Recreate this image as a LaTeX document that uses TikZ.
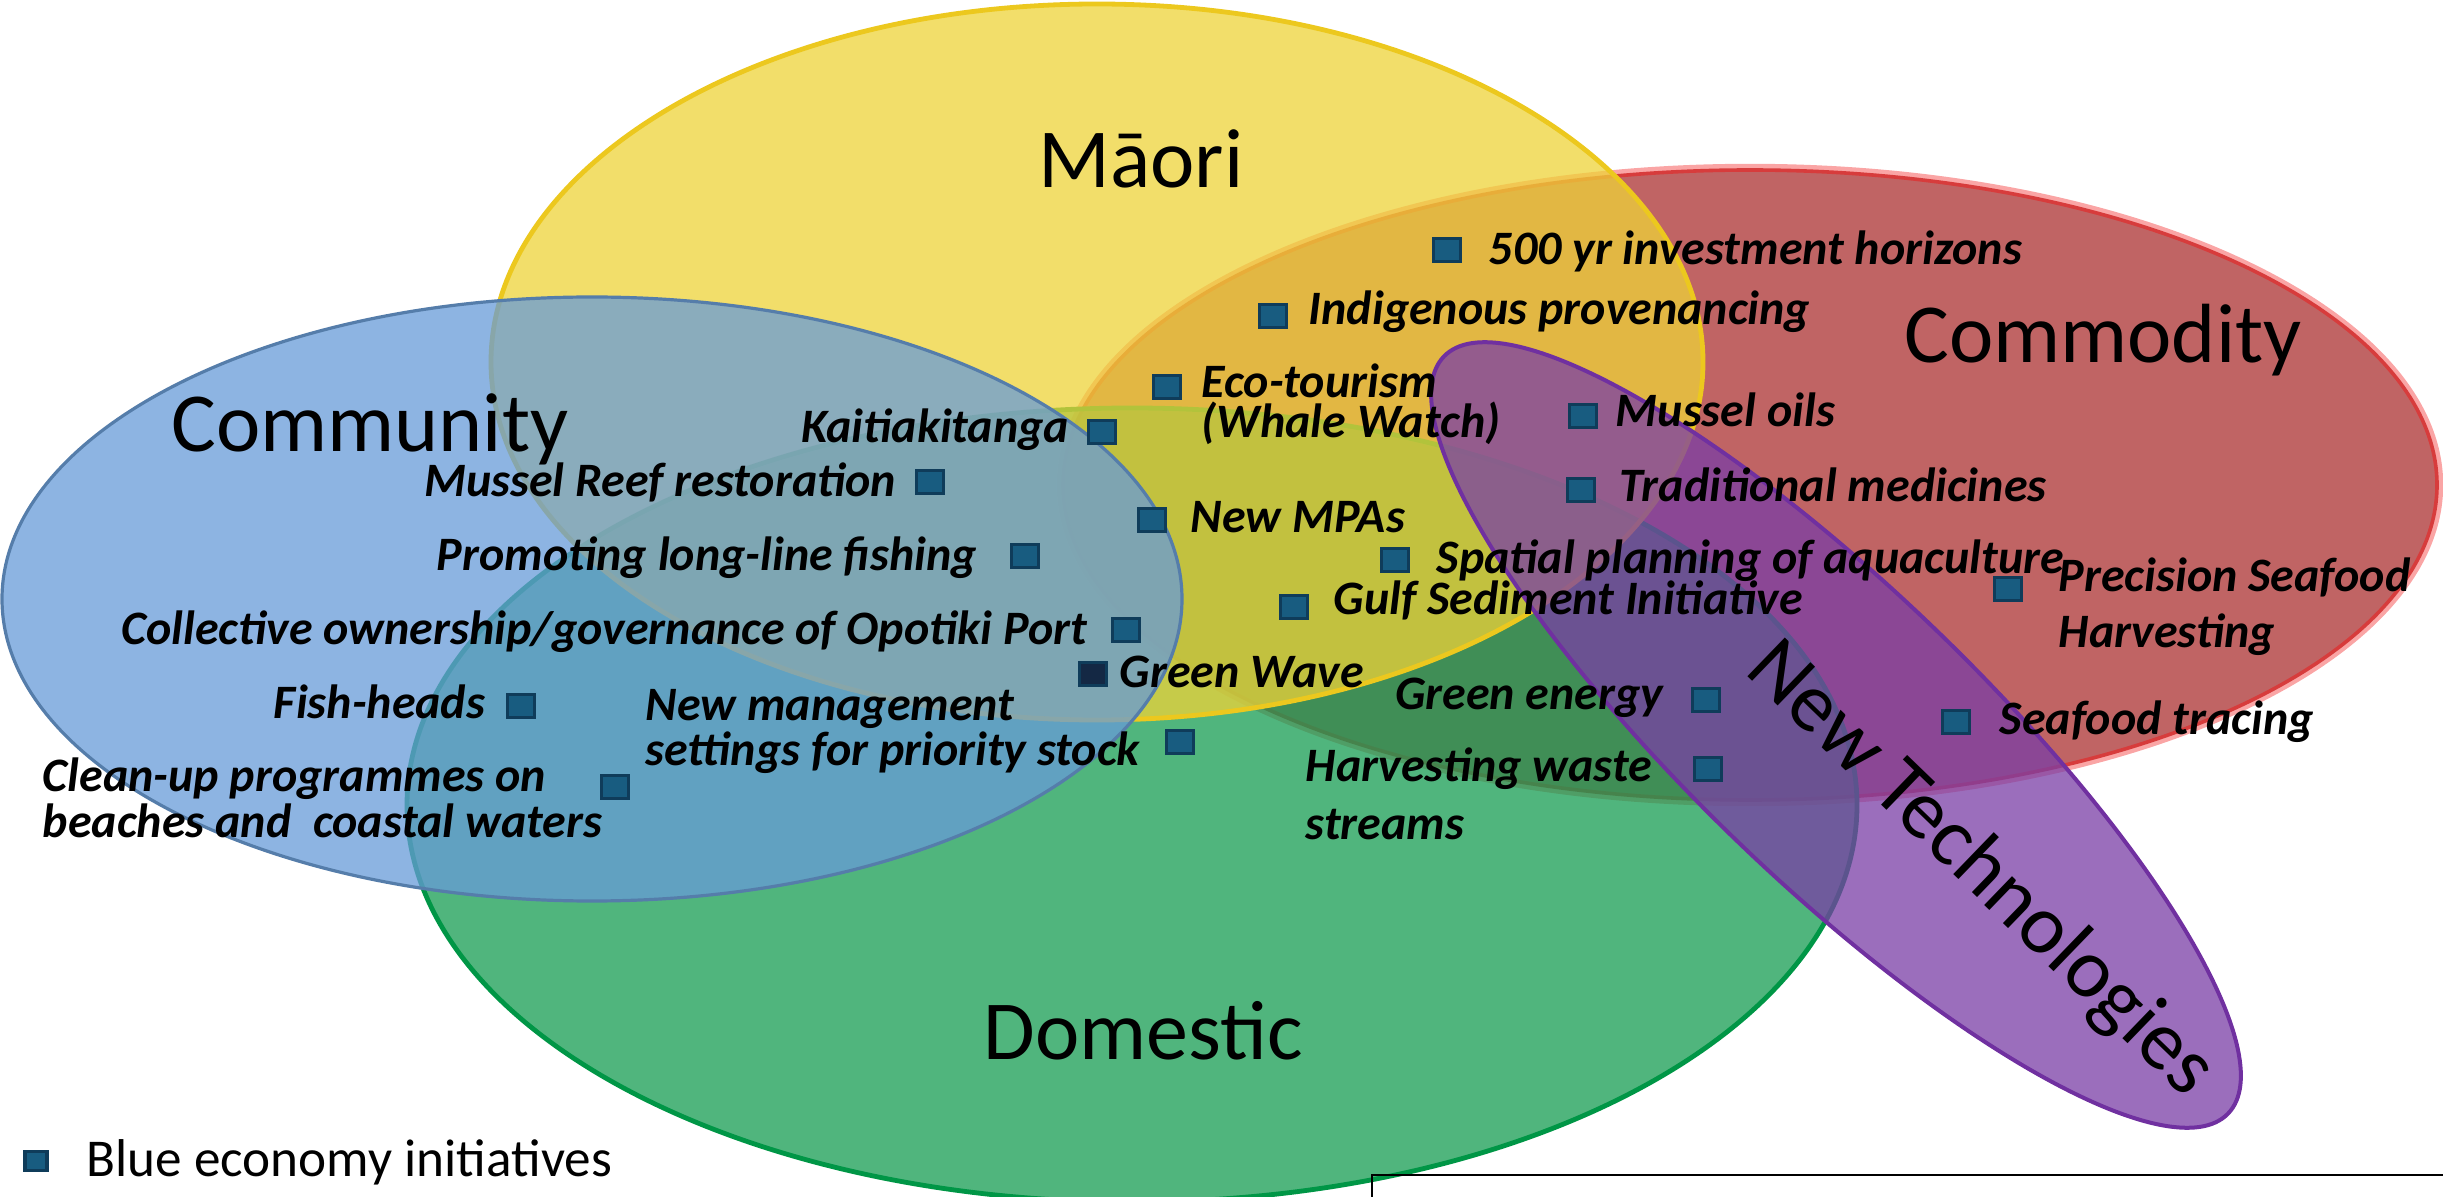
\documentclass[tikz,border=0pt]{standalone}
\usepackage{fontspec}
\setmainfont{Carlito}
\usetikzlibrary{positioning}

\definecolor{maoriFill}{RGB}{238,211,56}
\definecolor{maoriLine}{RGB}{236,200,30}
\definecolor{commFill}{RGB}{103,155,216}
\definecolor{commLine}{RGB}{85,125,170}
\definecolor{domFill}{RGB}{22,156,82}
\definecolor{domLine}{RGB}{0,150,70}
\definecolor{commodFill}{RGB}{171,48,48}
\definecolor{commodLine}{RGB}{215,60,60}
\definecolor{commodGlow}{RGB}{250,165,165}
\definecolor{techFill}{RGB}{122,62,166}
\definecolor{techLine}{RGB}{112,48,160}
\definecolor{sqFill}{RGB}{24,92,128}
\definecolor{sqLine}{RGB}{15,60,90}
\definecolor{sqDark}{RGB}{20,40,68}

\tikzset{
  marker/.style={draw=sqLine, fill=sqFill, line width=0.8pt, minimum width=6.8pt, minimum height=5.6pt, inner sep=0pt},
  item/.style={font=\fontsize{12}{14}\selectfont\bfseries\itshape, inner sep=0pt},
  lines/.style={align=left, inner sep=0pt, font=\fontsize{12}{#1}\selectfont\bfseries\itshape},
  title/.style={font=\fontsize{21}{25}\selectfont, inner sep=0pt, anchor=base},
}

\begin{document}
\begin{tikzpicture}[x=0.25pt,y=-0.25pt]
\useasboundingbox (0,0) rectangle (2443,1197);
\clip (0,0) rectangle (2443,1197);
% Ellipses
\draw [commodGlow, line width=1.6pt] (1750,485) ellipse [x radius=690, y radius=318];
\draw [commodLine, line width=0.9pt, fill=commodFill, fill opacity=0.75] (1750,485) ellipse [x radius=687, y radius=315];
\draw [domLine, line width=1.2pt, fill=domFill, fill opacity=0.75] (1132,805) ellipse [x radius=725, y radius=397];
\draw [maoriLine, line width=1.2pt, fill=maoriFill, fill opacity=0.75] (1097,362) ellipse [x radius=606, y radius=358];
\draw [commLine, line width=0.8pt, fill=commFill, fill opacity=0.75] (592,599) ellipse [x radius=590, y radius=302];
\draw [techLine, line width=1pt, fill=techFill, fill opacity=0.75, rotate around={-44:(1836,735)}] (1836,735) ellipse [x radius=545, y radius=145];
% Titles
\node [title] (maori) at (1141,188) {Māori};
\node [title] (commodity) at (2103,363) {Commodity};
\node [title] (community) at (370,452) {Community};
\node [title] (domestic) at (1143,1059) {Domestic};
\node [font=\fontsize{21}{25}\selectfont, inner sep=0pt, rotate=-44] (newtech) at (1980,870) {New Technologies};
% Markers
\node [marker] (m1) at (1447,250) {};
\node [marker] (m2) at (1273,316) {};
\node [marker] (m3) at (1167,387) {};
\node [marker] (m4) at (1102,432) {};
\node [marker] (m5) at (1583,416) {};
\node [marker] (m6) at (1581,490) {};
\node [marker] (m7) at (930,482) {};
\node [marker] (m8) at (1152,520) {};
\node [marker] (m9) at (1025,556) {};
\node [marker] (m10) at (1395,560) {};
\node [marker] (m11) at (1294,607) {};
\node [marker] (m12) at (2008,589) {};
\node [marker] (m13) at (1126,630) {};
\node [marker, fill=sqDark] (m14) at (1093,674) {};
\node [marker] (m15) at (521,706) {};
\node [marker] (m16) at (1180,742) {};
\node [marker] (m17) at (1706,700) {};
\node [marker] (m18) at (1956,722) {};
\node [marker] (m19) at (1708,769) {};
\node [marker] (m20) at (615,787) {};
% Text Node
\node [item, anchor=base west] (t1) at (1488,265) {500 yr investment horizons};
\node [item, anchor=base west] (t2) at (1308,325) {Indigenous provenancing};
\node [lines=10pt, anchor=base west] (t3) at (1201,438) {Eco-tourism\\(Whale Watch)};
\node [item, anchor=base east] (t4) at (1070,443) {Kaitiakitanga};
\node [item, anchor=base west] (t5) at (1615,427) {Mussel oils};
\node [item, anchor=base west] (t6) at (1619,502) {Traditional medicines};
\node [item, anchor=base east] (t7) at (897,497) {Mussel Reef restoration};
\node [item, anchor=base west] (t8) at (1190,533) {New MPAs};
\node [item, anchor=base east] (t9) at (978,571) {Promoting long-line fishing};
\node [item, anchor=base west] (t10) at (1436,574) {Spatial planning of aquaculture};
\node [item, anchor=base west] (t11) at (1333,615) {Gulf Sediment Initiative};
\node [lines=14pt, anchor=base west] (t12) at (2058,648) {Precision Seafood\\Harvesting};
\node [item, anchor=base east] (t13) at (1088,645) {Collective ownership/governance of Opotiki Port};
\node [item, anchor=base west] (t14) at (1119,687) {Green Wave};
\node [item, anchor=base east] (t15) at (486,718) {Fish-heads};
\node [lines=9.5pt, anchor=base west] (t16) at (645,766) {New management\\settings for priority stock};
\node [item, anchor=base east] (t17) at (1664,710) {Green energy};
\node [item, anchor=base west] (t18) at (1999,735) {Seafood tracing};
\node [lines=14.5pt, anchor=base west] (t19) at (1305,840) {Harvesting waste\\streams};
\node [lines=9.75pt, anchor=base west] (t20) at (42,837) {Clean-up programmes on\\beaches and~ coastal waters};
% Legend
\node [marker, minimum width=5.5pt, minimum height=4.7pt] (key) at (36,1161) {};
\node [font=\fontsize{13.3}{16}\selectfont, inner sep=0pt, anchor=base west] (keytext) at (86,1176) {Blue economy initiatives};
% Source box
\coordinate (boxa) at (1372,1260);
\coordinate (boxb) at (2500,1175);
\draw [line width=0.5pt] (boxa) |- (boxb);
\end{tikzpicture}
\end{document}
